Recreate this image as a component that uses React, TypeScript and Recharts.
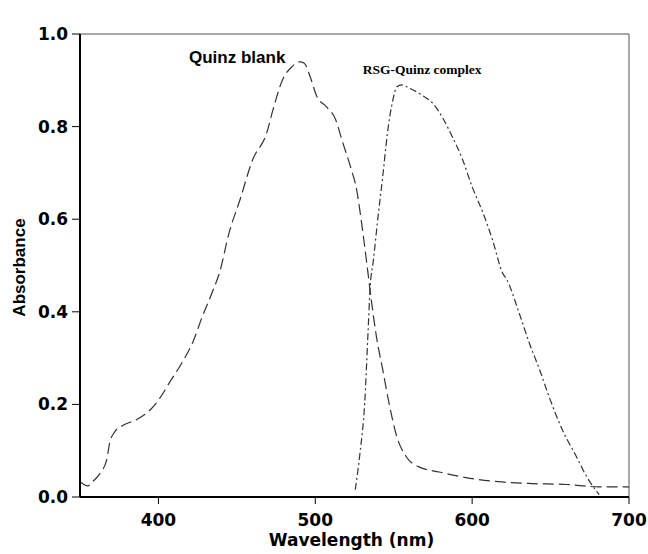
import React from 'react';
import { LineChart, Line, XAxis, YAxis, ReferenceLine } from 'recharts';

// Quinz blank spectrum (wavelength nm / absorbance)
const blankWl = [
  350, 355, 358, 363, 367, 369, 372, 377, 386, 395, 401, 407, 415, 422, 428, 435, 439, 445, 452, 460,
  469, 473, 479, 485, 490, 493, 497, 501, 507, 513, 517, 523, 526, 529, 533, 536, 539, 543, 547, 552,
  558, 566, 579, 596, 617, 638, 660, 681, 700,
];
const blankAbs = [
  0.033, 0.024, 0.033, 0.052, 0.08, 0.118, 0.14, 0.154, 0.167, 0.189, 0.214, 0.247, 0.29, 0.335, 0.39,
  0.448, 0.485, 0.57, 0.642, 0.728, 0.786, 0.836, 0.9, 0.929, 0.94, 0.937, 0.905, 0.865, 0.843, 0.815,
  0.771, 0.707, 0.67, 0.605, 0.5, 0.418, 0.346, 0.275, 0.203, 0.13, 0.087, 0.065, 0.054, 0.042, 0.033,
  0.029, 0.027, 0.022, 0.022,
];

// RSG-Quinz complex spectrum
const complexWl = [
  525.5, 528.5, 531.5, 533.5, 535, 537, 540, 543, 546, 549.5, 552, 555, 560, 568, 575, 581, 587.5, 594,
  600, 607, 613, 619.5, 622, 630, 636.5, 643, 649, 657.5, 666.5, 673, 681,
];
const complexAbs = [
  0.016, 0.095, 0.203, 0.346, 0.454, 0.51, 0.605, 0.692, 0.786, 0.858, 0.886, 0.89, 0.883, 0.868, 0.85,
  0.82, 0.777, 0.728, 0.67, 0.613, 0.555, 0.483, 0.47, 0.397, 0.332, 0.275, 0.217, 0.145, 0.087, 0.044,
  0.005,
];

const xTicks = [400, 500, 600, 700];
const yTicks = [0, 0.2, 0.4, 0.6, 0.8, 1.0];

const blankData = blankWl.map((wl, i) => ({ wl, abs: blankAbs[i] }));
const complexData = complexWl.map((wl, i) => ({ wl, abs: complexAbs[i] }));

// drop the default body margin so the chart can use the whole 648x554 page
if (typeof document !== 'undefined') document.body.style.margin = '0';

const W = 648;
const H = 554;

const tickStyle = {
  fill: '#000',
  fontSize: 17,
  fontWeight: 'bold',
  fontFamily: 'DejaVu Sans',
};

export default function App() {
  return (
    <div style={{ position: 'relative', width: W, height: H }}>
      <LineChart
        width={W}
        height={H}
        margin={{ top: 34, right: 19, bottom: 0, left: 0 }}
      >
        <XAxis
          type="number"
          dataKey="wl"
          domain={[350, 700]}
          ticks={xTicks}
          allowDataOverflow
          height={57}
          tick={tickStyle}
          tickSize={7}
          tickMargin={10}
          axisLine={{ stroke: '#000', strokeWidth: 2 }}
          tickLine={{ stroke: '#000', strokeWidth: 1 }}
        />
        <YAxis
          type="number"
          domain={[0, 1]}
          ticks={yTicks}
          width={80}
          tick={tickStyle}
          tickSize={8}
          tickMargin={4}
          tickFormatter={(v: number) => v.toFixed(1)}
          axisLine={{ stroke: '#000', strokeWidth: 2 }}
          tickLine={{ stroke: '#000', strokeWidth: 1 }}
        />
        <ReferenceLine y={1} stroke="#555" strokeWidth={1} />
        <ReferenceLine x={700} stroke="#555" strokeWidth={1} />
        <Line
          data={blankData}
          dataKey="abs"
          type="monotone"
          stroke="#333"
          strokeWidth={1.2}
          strokeDasharray="11 5"
          dot={false}
          isAnimationActive={false}
        />
        <Line
          data={complexData}
          dataKey="abs"
          type="monotone"
          stroke="#333"
          strokeWidth={1.2}
          strokeDasharray="7 3 2 3"
          dot={false}
          isAnimationActive={false}
        />
      </LineChart>
      <svg
        width={W}
        height={H}
        style={{ position: 'absolute', left: 0, top: 0, pointerEvents: 'none' }}
      >
        <text x={189} y={62.5} fontFamily="Liberation Sans" fontWeight="bold" fontSize={17} fill="#000">
          Quinz blank
        </text>
        <text x={362.7} y={73.5} fontFamily="Liberation Serif" fontWeight="bold" fontSize={13.5} fill="#000">
          RSG-Quinz complex
        </text>
        <text
          x={351.5}
          y={546}
          textAnchor="middle"
          fontFamily="DejaVu Sans"
          fontWeight="bold"
          fontSize={17}
          fill="#000"
        >
          Wavelength (nm)
        </text>
        <text
          x={0}
          y={0}
          transform="translate(25,267.5) rotate(-90)"
          textAnchor="middle"
          fontFamily="Liberation Sans"
          fontWeight="bold"
          fontSize={17}
          fill="#000"
        >
          Absorbance
        </text>
      </svg>
    </div>
  );
}
